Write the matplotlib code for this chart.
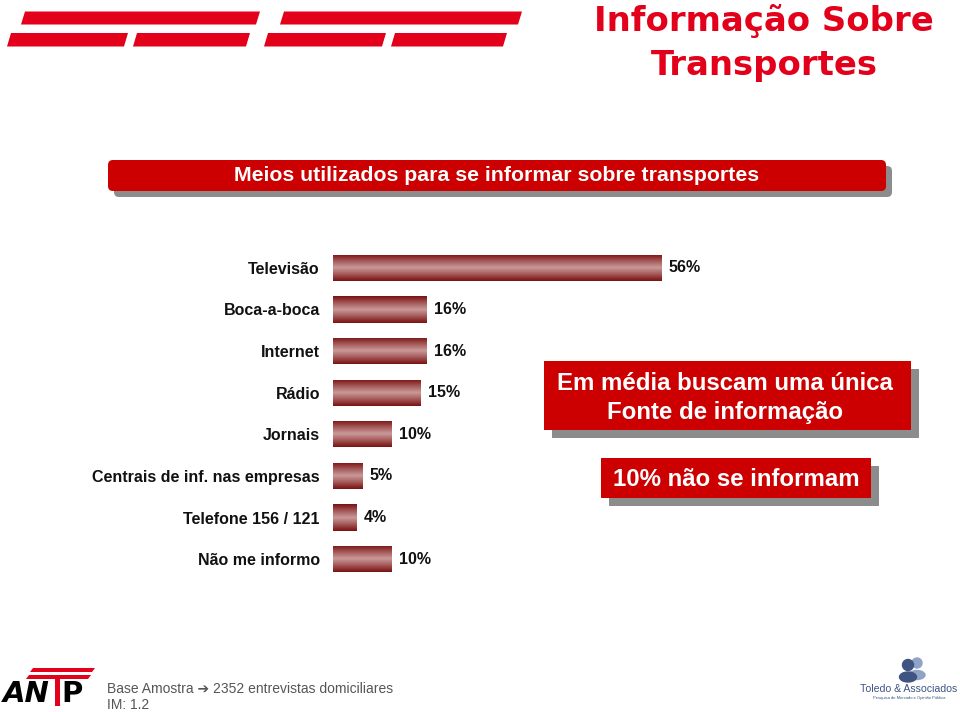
import matplotlib
matplotlib.use("Agg")
import matplotlib.pyplot as plt
import numpy as np
from matplotlib.patches import FancyBboxPatch, Polygon, Rectangle, Circle, Ellipse
from matplotlib.colors import LinearSegmentedColormap

# ---- data ----
categories = ["Televisão", "Boca-a-boca", "Internet", "Rádio", "Jornais",
              "Centrais de inf. nas empresas", "Telefone 156 / 121", "Não me informo"]
values = [56, 16, 16, 15, 10, 5, 4, 10]
value_labels = ["56%", "16%", "16%", "15%", "10%", "5%", "4%", "10%"]

page_title = ["Informação Sobre", "Transportes"]
band_title = "Meios utilizados para se informar sobre transportes"
callout_1 = ["Em média buscam uma única", "Fonte de informação"]
callout_2 = "10% não se informam"
footer = ["Base Amostra \u2794 2352 entrevistas domiciliares", "IM: 1.2"]

SANS = ["Liberation Sans", "DejaVu Sans"]
plt.rcParams["font.family"] = SANS

W, H = 960, 712
fig = plt.figure(figsize=(W / 100, H / 100), dpi=100)

# background overlay axes in pixel units
bg = fig.add_axes([0, 0, 1, 1], zorder=0)
bg.set_xlim(0, W)
bg.set_ylim(H, 0)
bg.axis("off")

RED = "#E3001B"
BAND = "#CC0000"
SHADOW = "#8C8C8C"

# top-left decorative stripes
def para(x0, x1, y0, y1, skew=4, color=RED):
    pts = [(x0 + skew, y0), (x1 + skew, y0), (x1, y1), (x0, y1)]
    bg.add_patch(Polygon(pts, closed=True, color=color, lw=0))

para(21, 256, 11.5, 24.5)
para(280, 518, 11.5, 24.5)
para(7, 124, 33, 46.5)
para(133, 246, 33, 46.5)
para(264, 382, 33, 46.5)
para(391, 503, 33, 46.5)

# page title
bg.text(764, 21, page_title[0], color=RED, fontsize=24.4, fontweight="bold",
        family="DejaVu Sans", ha="center", va="center")
bg.text(764, 66, page_title[1], color=RED, fontsize=24.4, fontweight="bold",
        family="DejaVu Sans", ha="center", va="center")

# title band
def box(x0, y0, x1, y1, dx, dy, r=4):
    bg.add_patch(FancyBboxPatch((x0 + dx, y0 + dy), x1 - x0, y1 - y0,
                                boxstyle=f"round,pad=0,rounding_size={r}",
                                fc=SHADOW, ec="none"))
    bg.add_patch(FancyBboxPatch((x0, y0), x1 - x0, y1 - y0,
                                boxstyle=f"round,pad=0,rounding_size={r}",
                                fc=BAND, ec="none"))

box(108, 160, 886, 191, 6, 6, r=5)
bg.text(497, 175.5, band_title, color="white", fontsize=15.3, fontweight="bold",
        ha="center", va="center")

# callouts
box(544, 361, 911, 430, 8, 8, r=0.5)
bg.text(725, 383, callout_1[0], color="white", fontsize=17.3, fontweight="bold",
        ha="center", va="center")
bg.text(725, 412, callout_1[1], color="white", fontsize=17.3, fontweight="bold",
        ha="center", va="center")
box(601, 458, 871, 498, 8, 8, r=0.5)
bg.text(736, 479, callout_2, color="white", fontsize=17.3, fontweight="bold",
        ha="center", va="center")

# footer
bg.text(107, 689, footer[0], color="#555555", fontsize=10, family=SANS,
        ha="left", va="center")
bg.text(107, 705, footer[1], color="#555555", fontsize=10, family=SANS,
        ha="left", va="center")

# ANTP logo (approximation)
para(30, 92, 668, 672, skew=3)
para(26, 88, 675, 679, skew=3)
bg.text(3, 694, "AN", color="black", fontsize=21, fontweight="bold",
        family="DejaVu Sans", style="italic", ha="left", va="center")
bg.add_patch(Rectangle((55, 679), 5, 27, color=RED, lw=0))
bg.text(61, 694, "P", color="black", fontsize=21, fontweight="bold",
        family="DejaVu Sans", ha="left", va="center")

# Toledo logo (approximation)
NAVY = "#3F5482"
bg.add_patch(Circle((917, 663), 5, color="#8FA3C6"))
bg.add_patch(Ellipse((917, 675), 16, 9, color="#8FA3C6"))
bg.add_patch(Circle((908, 665), 5.5, color=NAVY))
bg.add_patch(Ellipse((908, 677), 17, 10, color=NAVY))
bg.text(909, 689, "Toledo & Associados", color=NAVY, fontsize=7.6, ha="center", va="center")
bg.text(909, 698, "Pesquisa de Mercado e Opinião Pública", color=NAVY, fontsize=3,
        ha="center", va="center")

# ---- bar chart ----
ax = fig.add_axes([333 / W, (H - 580) / H, 586 / W, 333 / H], zorder=2)
ax.patch.set_alpha(0)
y = np.arange(len(categories))
bar_h = 0.63
bars = ax.barh(y, values, height=bar_h, color="none", edgecolor="none")

cmap = LinearSegmentedColormap.from_list(
    "bar", ["#7A1212", "#A55858", "#C99A9A", "#A55858", "#7A1212"])
grad = np.linspace(0, 1, 64).reshape(-1, 1)
for b, v, yi in zip(bars, values, y):
    im = ax.imshow(grad, extent=[0, v, yi + bar_h / 2, yi - bar_h / 2],
                   aspect="auto", cmap=cmap, interpolation="bilinear", zorder=2)
    im.set_clip_path(b)

for v, yi, lab in zip(values, y, value_labels):
    ax.annotate(lab, (v, yi), xytext=(7, 0), textcoords="offset pixels",
                va="center", ha="left", fontsize=11.5, fontweight="bold",
                color="#111111")

ax.set_xlim(0, 100)
ax.set_ylim(len(categories) - 0.5, -0.5)
ax.set_yticks(y)
ax.set_yticklabels(categories, fontsize=11.5, fontweight="bold", color="#111111")
ax.tick_params(axis="y", length=0, pad=9.4)
ax.set_xticks([])
for s in ax.spines.values():
    s.set_visible(False)

fig.savefig("out.png", dpi=100)
